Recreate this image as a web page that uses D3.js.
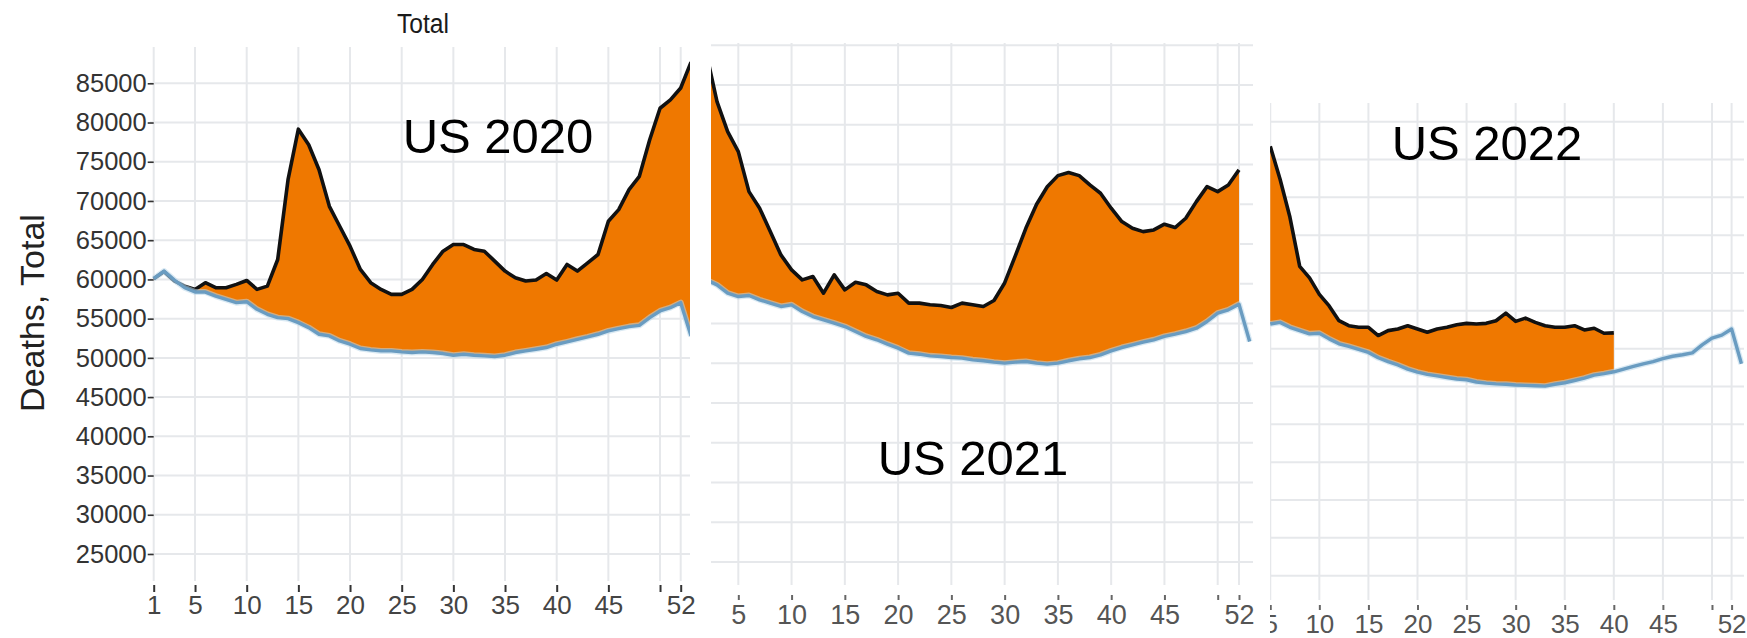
<!DOCTYPE html>
<html>
<head>
<meta charset="utf-8">
<script src="https://cdn.jsdelivr.net/npm/d3@7"></script>
<style>
  html, body { margin: 0; padding: 0; background: #fff; }
  svg { display: block; font-family: "Liberation Sans", Arial, sans-serif; }
</style>
</head>
<body>
<div id="chart"></div>
<script>
// step 1. VARIABLES
const width = 1747;
const height = 638;

// step 2. DATA
// weekly deaths, observed (black) vs expected baseline (blue)
const weekTicks = [1, 5, 10, 15, 20, 25, 30, 35, 40, 45, 50, 52];
const weekTicksCut = [5, 10, 15, 20, 25, 30, 35, 40, 45, 50, 52]; // week 1 is cropped off in 2021 / 2022
const yTicks = [25000, 30000, 35000, 40000, 45000, 50000, 55000, 60000, 65000, 70000, 75000, 80000, 85000];
const panelLabels = ["US 2020", "US 2021", "US 2022"];

const firstWeekObserved2020 = 1;
const observed2020 = [60100, 61000, 59800, 59150, 58730, 59580, 58940, 58940, 59370, 59870,
  58730, 59150, 62540, 72710, 79150, 77160, 73980, 69320, 66780, 64240,
  61270, 59580, 58730, 58100, 58100, 58730, 60000, 61910, 63600, 64450,
  64450, 63820, 63600, 62330, 61060, 60210, 59790, 59920, 60760, 59920,
  61910, 61060, 62120, 63180, 67420, 68900, 71440, 73140, 77800, 81820,
  82880, 84400, 87700];
const firstWeekExpected2020 = 1;
const expected2020 = [60100, 61060, 59920, 58940, 58390, 58390, 57880, 57460, 57040, 57160,
  56190, 55550, 55130, 55000, 54490, 53860, 53010, 52800, 52160, 51740,
  51190, 51020, 50890, 50890, 50760, 50680, 50760, 50680, 50550, 50340,
  50470, 50340, 50260, 50170, 50340, 50680, 50890, 51100, 51320, 51740,
  52040, 52370, 52670, 53010, 53430, 53730, 53990, 54150, 55130, 55980,
  56400, 57040, 52800];

const firstWeekObserved2021 = 2;
const observed2021 = [89000, 82900, 79130, 76620, 71590, 69500, 66560, 63630, 61750,
  60490, 60910, 58810, 61120, 59230, 60190, 59860, 59020, 58600, 58810,
  57560, 57560, 57350, 57260, 57010, 57560, 57350, 57140, 57900, 60100,
  63500, 67000, 70000, 72200, 73600, 74000, 73600, 72430, 71380, 69500,
  67820, 66980, 66560, 66770, 67490, 67070, 68240, 70330, 72220, 71590,
  72430, 74320];
const firstWeekExpected2021 = 2;
const expected2021 = [60500, 59860, 58810, 58390, 58520, 57980, 57560, 57140, 57350,
  56510, 55880, 55460, 55040, 54620, 53990, 53370, 52950, 52400, 51900,
  51270, 51140, 50930, 50850, 50720, 50640, 50430, 50310, 50140, 50010,
  50140, 50220, 50010, 49890, 50010, 50310, 50560, 50720, 51060, 51560,
  51980, 52320, 52650, 52950, 53370, 53660, 53990, 54410, 55250, 56300,
  56720, 57430, 52730];

const firstWeekObserved2022 = 5;
const observed2022 = [81740, 77390, 72400, 65870, 64350, 62170, 60650, 58700, 58040, 57830,
  57830, 56740, 57390, 57610, 58040, 57610, 57170, 57610, 57830, 58170,
  58350, 58260, 58350, 58700, 59700, 58610, 59040, 58480, 58040, 57830,
  57830, 58040, 57480, 57700, 57040, 57090];
const firstWeekExpected2022 = 5;
const expected2022 = [58260, 58480, 57830, 57390, 56960, 57040, 56300, 55650, 55300, 54900,
  54500, 53800, 53300, 52850, 52300, 51900, 51600, 51400, 51200, 51000,
  50900, 50600, 50450, 50350, 50300, 50200, 50150, 50100, 50050, 50300,
  50500, 50800, 51100, 51500, 51700, 51950, 52300, 52650, 53000, 53300,
  53700, 54000, 54200, 54450, 55500, 56400, 56800, 57600, 53000];

// panel table built from the arrays above + where each pasted panel sits
const panels = [
  { label: panelLabels[0], obs: observed2020, obsFirst: firstWeekObserved2020, exp: expected2020, expFirst: firstWeekExpected2020,
    ticks: weekTicks, xRange: [153.7, 680.7], yRange: [554, 83.3], clip: [150, 690, 40, 583], gridTop: 47, gridBottom: 581,
    gridVals: yTicks, axisY: 585, tickSize: 7, tickPad: 4, fontSize: 26, tickColor: "#333", textColor: "#444",
    axisClip: null, labelPos: [498, 153], yAxis: true },
  { label: panelLabels[1], obs: observed2021, obsFirst: firstWeekObserved2021, exp: expected2021, expFirst: firstWeekExpected2021,
    ticks: weekTicksCut, xRange: [695.7, 1239], yRange: [562, 85], clip: [711, 1253, 40, 590], gridTop: 43, gridBottom: 585,
    gridVals: yTicks.concat([90000]), axisY: 595, tickSize: 5, tickPad: 5, fontSize: 27, tickColor: "#666", textColor: "#555",
    axisClip: [711, 1262], labelPos: [973, 475], yAxis: false },
  { label: panelLabels[2], obs: observed2022, obsFirst: firstWeekObserved2022, exp: expected2022, expFirst: firstWeekExpected2022,
    ticks: weekTicksCut, xRange: [1231, 1731.6], yRange: [575.7, 121.7], clip: [1270, 1744, 100, 602], gridTop: 103, gridBottom: 600,
    gridVals: yTicks, axisY: 605, tickSize: 5, tickPad: 5, fontSize: 26, tickColor: "#666", textColor: "#555",
    axisClip: [1270, 1747], labelPos: [1487, 160], yAxis: false }
];

// step 4. ELEMENT APPEND
const svg = d3.select("#chart").append("svg")
  .attr("width", width)
  .attr("height", height);

svg.append("rect").attr("width", width).attr("height", height).attr("fill", "#fff");
const defs = svg.append("defs");

panels.forEach((p, i) => {
  // step 3. SCALES
  const x = d3.scaleLinear().domain([1, 52]).range(p.xRange);
  const y = d3.scaleLinear().domain([25000, 85000]).range(p.yRange);

  defs.append("clipPath").attr("id", "clip" + i).append("rect")
    .attr("x", p.clip[0]).attr("y", p.clip[2])
    .attr("width", p.clip[1] - p.clip[0]).attr("height", p.clip[3] - p.clip[2]);

  const plot = svg.append("g").attr("clip-path", "url(#clip" + i + ")");

  // gridlines
  plot.selectAll(".hgrid").data(p.gridVals).join("line").attr("class", "hgrid")
    .attr("x1", p.clip[0]).attr("x2", p.clip[1])
    .attr("y1", d => y(d)).attr("y2", d => y(d))
    .attr("stroke", "#e6e8eb").attr("stroke-width", 2);
  plot.selectAll(".vgrid").data(p.ticks).join("line").attr("class", "vgrid")
    .attr("x1", d => x(d)).attr("x2", d => x(d))
    .attr("y1", p.gridTop).attr("y2", p.gridBottom)
    .attr("stroke", "#e6e8eb").attr("stroke-width", 2);

  const expRows = p.exp.map((v, k) => ({ week: p.expFirst + k, value: v }));
  const obsRows = p.obs.map((v, k) => ({ week: p.obsFirst + k, value: v, base: p.exp[p.obsFirst - p.expFirst + k] }));

  // step 5. SELECT - excess ribbon
  const ribbon = d3.area()
    .x(d => x(d.week))
    .y0(d => y(d.base))
    .y1(d => y(Math.max(d.value, d.base)));
  plot.append("path").datum(obsRows)
    .attr("d", ribbon)
    .attr("fill", "#ef7800");

  const line = d3.line().x(d => x(d.week)).y(d => y(d.value));

  plot.append("path").datum(obsRows)
    .attr("d", line)
    .attr("fill", "none").attr("stroke", "#111").attr("stroke-width", 3.6)
    .attr("stroke-linejoin", "round");

  plot.append("path").datum(expRows)
    .attr("d", line)
    .attr("fill", "none").attr("stroke", "#b9d7ea").attr("stroke-width", 6)
    .attr("stroke-linejoin", "round").attr("opacity", 0.55);
  plot.append("path").datum(expRows)
    .attr("d", line)
    .attr("fill", "none").attr("stroke", "#6a9cc1").attr("stroke-width", 3.4)
    .attr("stroke-linejoin", "round");

  // x axis
  let axisHolder = svg;
  if (p.axisClip) {
    defs.append("clipPath").attr("id", "axclip" + i).append("rect")
      .attr("x", p.axisClip[0]).attr("y", p.axisY - 2)
      .attr("width", p.axisClip[1] - p.axisClip[0]).attr("height", 60);
    axisHolder = svg.append("g").attr("clip-path", "url(#axclip" + i + ")");
  }
  const xAxis = axisHolder.append("g")
    .attr("transform", "translate(0," + p.axisY + ")")
    .call(d3.axisBottom(x).tickValues(p.ticks)
      .tickFormat(d => d === 50 ? "" : d)
      .tickSize(p.tickSize).tickPadding(p.tickPad));
  xAxis.select(".domain").remove();
  xAxis.attr("font-family", null).attr("font-size", p.fontSize);
  xAxis.selectAll(".tick line").attr("stroke", p.tickColor).attr("stroke-width", 2);
  xAxis.selectAll(".tick text").attr("fill", p.textColor);

  if (p.yAxis) {
    const yAxis = svg.append("g")
      .attr("transform", "translate(" + p.xRange[0] + ",0)")
      .call(d3.axisLeft(y).tickValues(yTicks).tickFormat(d3.format("d")).tickSize(6).tickPadding(1));
    yAxis.select(".domain").remove();
    yAxis.attr("font-family", null).attr("font-size", 25.5);
    yAxis.selectAll(".tick line").attr("stroke", "#333").attr("stroke-width", 1.6);
    yAxis.selectAll(".tick text").attr("fill", "#333");
  }

  svg.append("text")
    .attr("x", p.labelPos[0]).attr("y", p.labelPos[1])
    .attr("text-anchor", "middle")
    .attr("font-size", 49)
    .attr("fill", "#000")
    .text(p.label);
});

// strip title and axis title
svg.append("text")
  .attr("x", 423).attr("y", 33)
  .attr("text-anchor", "middle")
  .attr("font-size", 27)
  .attr("textLength", 52).attr("lengthAdjust", "spacingAndGlyphs")
  .attr("fill", "#1a1a1a")
  .text("Total");

svg.append("text")
  .attr("transform", "translate(44,313) rotate(-90)")
  .attr("text-anchor", "middle")
  .attr("font-size", 34)
  .attr("fill", "#222")
  .text("Deaths, Total");
</script>
</body>
</html>
